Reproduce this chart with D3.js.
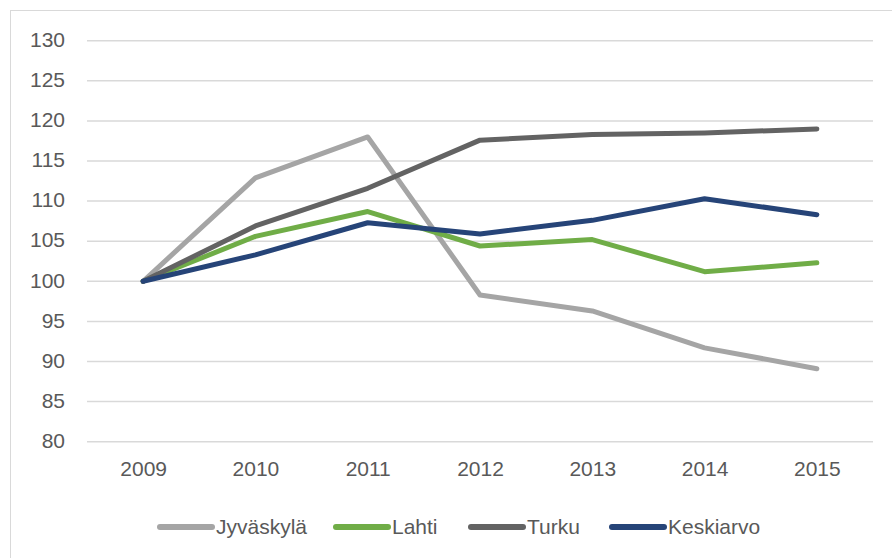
<!DOCTYPE html>
<html>
<head>
<meta charset="utf-8">
<script src="https://cdn.jsdelivr.net/npm/d3@7"></script>
<style>
  body { margin: 0; background: #fff; }
  svg text { font-family: "Liberation Sans", Arial, sans-serif; fill: #595959; }
</style>
</head>
<body>
<svg id="chart" width="892" height="558"></svg>
<script>
// data
const years = ["2009", "2010", "2011", "2012", "2013", "2014", "2015"];
const yTicks = [80, 85, 90, 95, 100, 105, 110, 115, 120, 125, 130];
const seriesNames = ["Jyväskylä", "Lahti", "Turku", "Keskiarvo"];
const seriesColors = ["#A5A5A5", "#70AD47", "#636363", "#264478"];
const jyvaskyla = [100, 112.9, 118.0, 98.3, 96.3, 91.7, 89.1];
const lahti = [100, 105.6, 108.7, 104.4, 105.2, 101.2, 102.3];
const turku = [100, 106.9, 111.6, 117.6, 118.3, 118.5, 119.0];
const keskiarvo = [100, 103.3, 107.3, 105.9, 107.6, 110.3, 108.3];
const allSeries = [jyvaskyla, lahti, turku, keskiarvo];

const svg = d3.select("#chart");

// outer chart border (only left/top visible in frame)
svg.append("rect")
  .attr("x", 10.5).attr("y", 10.5)
  .attr("width", 900).attr("height", 560)
  .attr("fill", "none")
  .attr("stroke", "#d9d9d9");

const x = d3.scalePoint().domain(years).range([87, 873]).padding(0.5);
const y = d3.scaleLinear().domain([80, 130]).range([441.7, 40.7]);

// gridlines
svg.append("g")
  .selectAll("line")
  .data(yTicks)
  .join("line")
  .attr("x1", 87).attr("x2", 873)
  .attr("y1", d => y(d))
  .attr("y2", d => y(d))
  .attr("stroke", "#d9d9d9")
  .attr("stroke-width", 1.5);

// y axis labels
const yAxis = d3.axisLeft(y).tickValues(yTicks).tickSize(0).tickPadding(0);
const gy = svg.append("g").attr("transform", "translate(65,-1)").call(yAxis);
gy.select(".domain").remove();
gy.selectAll("text").attr("font-size", 21).style("font-family", null).attr("fill", null);

// x axis labels
const xAxis = d3.axisBottom(x).tickSize(0).tickPadding(0);
const gx = svg.append("g").attr("transform", "translate(0,461)").call(xAxis);
gx.select(".domain").remove();
gx.selectAll("text").attr("font-size", 21).style("font-family", null).attr("fill", null);

// lines
const line = d3.line()
  .x((d, i) => x(years[i]))
  .y(d => y(d));

svg.append("g")
  .selectAll("path")
  .data(allSeries)
  .join("path")
  .attr("d", line)
  .attr("fill", "none")
  .attr("stroke", (d, i) => seriesColors[i])
  .attr("stroke-width", 5)
  .attr("stroke-linecap", "round")
  .attr("stroke-linejoin", "round");

// legend
const legendX = [157, 333, 468, 609];
const legend = svg.append("g")
  .selectAll("g")
  .data(seriesNames)
  .join("g")
  .attr("transform", (d, i) => `translate(${legendX[i]},527)`);

legend.append("line")
  .attr("x1", 3).attr("x2", 55)
  .attr("y1", 0).attr("y2", 0)
  .attr("stroke", (d, i) => seriesColors[i])
  .attr("stroke-width", 6)
  .attr("stroke-linecap", "round");

legend.append("text")
  .attr("x", 59)
  .attr("y", 0)
  .attr("dy", "0.35em")
  .attr("font-size", 21)
  .text(d => d);
</script>
</body>
</html>
